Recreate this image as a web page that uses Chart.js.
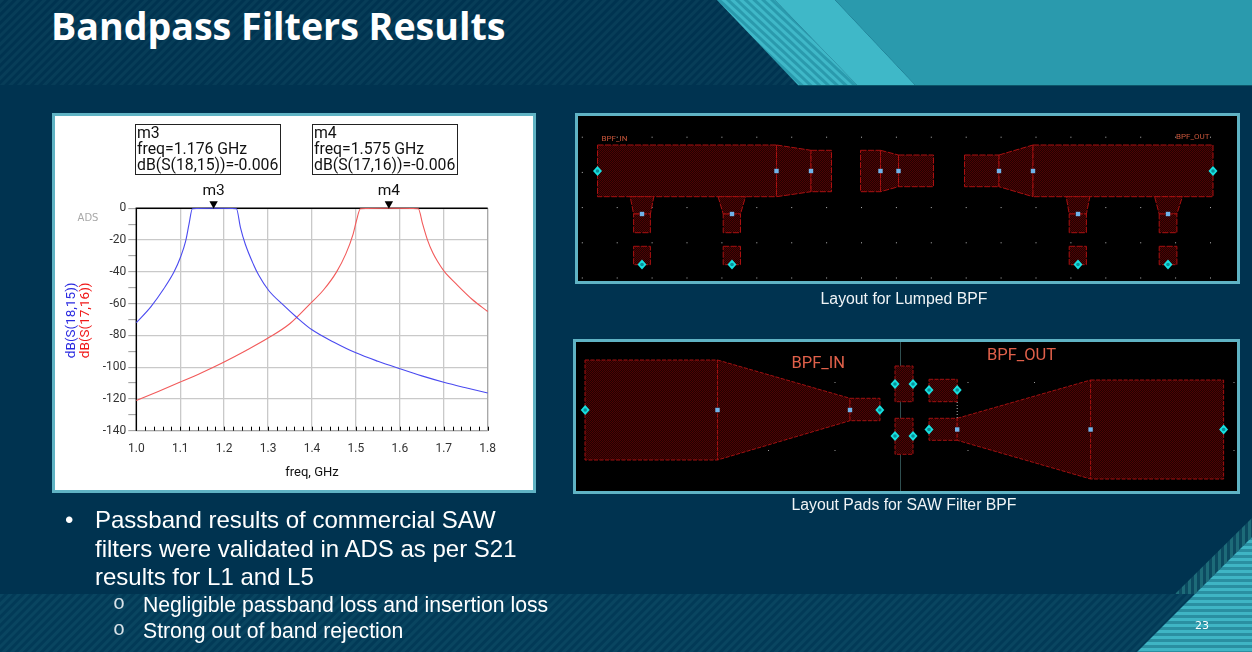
<!DOCTYPE html>
<html>
<head>
<meta charset="utf-8">
<title>Bandpass Filters Results</title>
<script src="https://cdn.jsdelivr.net/npm/chart.js@4"></script>
<style>
html, body { margin: 0; padding: 0; background: #003350; }
#slide { position: relative; width: 1252px; height: 652px; overflow: hidden; background: #003350; font-family: "Liberation Sans", Arial, sans-serif; color: #fff; }
#deco, #layouts { position: absolute; left: 0; top: 0; }
h1 { position: absolute; left: 51px; top: -1px; margin: 0; font: 700 37.6px/54px "Open Sans", sans-serif; white-space: nowrap; }
#panel { position: absolute; left: 52px; top: 113px; width: 478px; height: 374px; border: 3px solid #5fb3c4; background: #fff; }
#panel canvas { position: absolute; left: 0; top: 0; }
.mbox { position: absolute; top: 8px; width: 143px; height: 49px; border: 1px solid #222; box-sizing: content-box; color: #111; font: 15.8px/16.2px Roboto, sans-serif; padding-left: 1px; white-space: nowrap; overflow: hidden; }
.line { position: absolute; white-space: nowrap; }
.ring { font-family: "Liberation Mono", monospace; color: #d8e2e8; }
.cap { position: absolute; white-space: nowrap; font-size: 15.8px; transform: translateX(-50%); color: #f0f4f6; }
</style>
</head>
<body>
<div id="slide">
  <svg id="deco" width="1252" height="652">
    <defs>
      <pattern id="diag" width="6" height="6" patternUnits="userSpaceOnUse" patternTransform="rotate(-45)">
        <rect width="6" height="3" fill="#073d58"/>
      </pattern>
      <pattern id="diagLow" width="6" height="6" patternUnits="userSpaceOnUse" patternTransform="rotate(-45)">
        <rect width="6" height="6" fill="#023a57"/>
        <rect width="6" height="3" fill="#094560"/>
      </pattern>
      <pattern id="stripeDiag" width="6" height="6" patternUnits="userSpaceOnUse" patternTransform="rotate(-47)">
        <rect width="6" height="6" fill="#2a9aad"/>
        <rect width="3" height="6" fill="#3fb8c8"/>
      </pattern>
      <pattern id="vert" width="6" height="6" patternUnits="userSpaceOnUse">
        <rect width="6" height="6" fill="#0c4a60"/>
        <rect width="3" height="6" fill="#1d6b78"/>
      </pattern>
      <pattern id="horiz" width="6" height="6" patternUnits="userSpaceOnUse">
        <rect width="6" height="6" fill="#2a8fa1"/>
        <rect width="6" height="3" fill="#3fb5c4"/>
      </pattern>
    </defs>
    <rect x="0" y="0" width="1252" height="85" fill="url(#diag)"/>
    <polygon points="717,0 775,0 857,85 798,85" fill="url(#stripeDiag)"/>
    <polygon points="775,0 835,0 915,85 857,85" fill="#3fb8c8"/>
    <polygon points="835,0 1252,0 1252,85 915,85" fill="#2a9aad"/>
    <rect x="798" y="85" width="454" height="1" fill="#0c5568"/>
    <rect x="0" y="594" width="1252" height="58" fill="url(#diagLow)"/>
    <polygon points="1175,594 1252,518 1252,537 1195,594" fill="url(#vert)"/>
    <polygon points="1137,652 1252,537 1252,652" fill="url(#horiz)"/>
  </svg>

  <h1>Bandpass Filters Results</h1>

  <div id="panel">
    <canvas id="chartCanvas" width="478" height="374"></canvas>
    <div class="mbox" style="left:80px">m3<br>freq=1.176 GHz<br>dB(S(18,15))=-0.006</div>
    <div class="mbox" style="left:257px">m4<br>freq=1.575 GHz<br>dB(S(17,16))=-0.006</div>
  </div>

  <svg id="layouts" width="1252" height="652">
    <defs>
      <pattern id="hatch" width="2" height="2" patternUnits="userSpaceOnUse">
        <rect width="2" height="2" fill="#220101"/>
        <rect width="1" height="1" fill="#4c0404"/>
        <rect x="1" y="1" width="1" height="1" fill="#4c0404"/>
      </pattern>
      <pattern id="dots1" x="581.8" y="136.7" width="34.9" height="35.2" patternUnits="userSpaceOnUse">
        <rect width="1" height="1" fill="#b8b8b8"/>
      </pattern>
      <pattern id="dots2" x="635" y="382" width="66.5" height="68" patternUnits="userSpaceOnUse">
        <rect width="1" height="1" fill="#9a9a9a"/>
      </pattern>
      <g id="pin"><path d="M0,-5 L4.5,0 L0,5 L-4.5,0 Z" fill="#16e0e0"/><circle r="1.8" fill="#0a8f98"/></g>
      <rect id="port" x="-2.2" y="-2.2" width="4.4" height="4.4" fill="#6fb4ea"/>
    </defs>

    <!-- Lumped BPF layout -->
    <rect x="576.5" y="114.5" width="662" height="168" fill="#000" stroke="#5fb3c4" stroke-width="3"/>
    <rect x="578" y="116" width="659" height="165" fill="url(#dots1)"/>
    <g fill="url(#hatch)" stroke="#a81010" stroke-width="1" stroke-dasharray="6 1.5">
      <rect x="597.5" y="145" width="179" height="51.7"/>
      <polygon points="776.5,145 811,150.3 811,191.7 776.5,196.7"/>
      <rect x="811" y="150.3" width="20.5" height="41.4"/>
      <rect x="860.5" y="150.3" width="20" height="41.4"/>
      <polygon points="880.5,150.3 898.5,155 898.5,186.7 880.5,191.7"/>
      <rect x="898.5" y="155" width="35" height="31.7"/>
      <rect x="964.5" y="155" width="34.5" height="31.7"/>
      <polygon points="999,155 1033,145 1033,196.7 999,186.7"/>
      <rect x="1033" y="145" width="180" height="51.7"/>
      <polygon points="630.2,196.7 653.8,196.7 650.4,214 633.6,214"/>
      <rect x="633.6" y="214" width="16.8" height="18.7"/>
      <rect x="633.6" y="246.3" width="16.8" height="18.4"/>
      <polygon points="718.1,196.7 745.5,196.7 740.5,214 723.2,214"/>
      <rect x="723.2" y="214" width="17.3" height="18.7"/>
      <rect x="723.2" y="246.3" width="17.3" height="18.4"/>
      <polygon points="1066.2,196.7 1089.8,196.7 1086.4,214 1069.2,214"/>
      <rect x="1069.2" y="214" width="17.2" height="18.7"/>
      <rect x="1069.2" y="246.3" width="17.2" height="18.4"/>
      <polygon points="1154.6,196.7 1182.4,196.7 1176.9,214 1159.2,214"/>
      <rect x="1159.2" y="214" width="17.7" height="18.7"/>
      <rect x="1159.2" y="246.3" width="17.7" height="18.4"/>
    </g>
    <g>
      <use href="#port" x="776.5" y="171"/><use href="#port" x="811" y="171"/>
      <use href="#port" x="880.5" y="171"/><use href="#port" x="898.5" y="171"/>
      <use href="#port" x="999" y="171"/><use href="#port" x="1033" y="171"/>
      <use href="#port" x="642" y="214"/><use href="#port" x="732" y="214"/>
      <use href="#port" x="1078" y="214"/><use href="#port" x="1168" y="214"/>
      <use href="#pin" x="597.5" y="171"/><use href="#pin" x="1213" y="171"/>
      <use href="#pin" x="642" y="264.5"/><use href="#pin" x="732" y="264.5"/>
      <use href="#pin" x="1078" y="264.5"/><use href="#pin" x="1168" y="264.5"/>
    </g>
    <text x="601.5" y="141" font-family="Roboto" font-size="8" fill="#c8553a">BPF_IN</text>
    <text x="1176" y="139" font-family="Roboto" font-size="8" fill="#c8553a">BPF_OUT</text>

    <!-- SAW filter pads layout -->
    <rect x="574.5" y="340.5" width="664" height="152" fill="#000" stroke="#5fb3c4" stroke-width="3"/>
    <rect x="576" y="342" width="661" height="149" fill="url(#dots2)"/>
    <line x1="900.5" y1="342" x2="900.5" y2="491" stroke="#2f4f50" stroke-width="1"/>
    <g fill="url(#hatch)" stroke="#a01010" stroke-width="1" stroke-dasharray="4 1.5">
      <rect x="585" y="360" width="132.5" height="100"/>
      <polygon points="717.5,360 850,398.3 850,420.7 717.5,460"/>
      <rect x="850" y="398.3" width="30" height="22.4"/>
      <rect x="895" y="366" width="18" height="35.7"/>
      <rect x="895" y="418.3" width="18" height="36"/>
      <rect x="929" y="379.3" width="28.2" height="22.4"/>
      <rect x="929" y="418.3" width="28.2" height="22"/>
      <polygon points="957.2,418.3 1090.6,380 1090.6,479 957.2,440.3"/>
      <rect x="1090.6" y="380" width="133" height="99"/>
    </g>
    <line x1="957.2" y1="402" x2="957.2" y2="418" stroke="#bbb" stroke-width="1" stroke-dasharray="1 2"/>
    <g>
      <use href="#port" x="717.5" y="410"/><use href="#port" x="850" y="410"/>
      <use href="#port" x="957.2" y="429.5"/><use href="#port" x="1090.6" y="429.5"/>
      <use href="#pin" x="585.2" y="410"/><use href="#pin" x="879.8" y="410"/>
      <use href="#pin" x="895" y="384"/><use href="#pin" x="913" y="384"/>
      <use href="#pin" x="929" y="390"/><use href="#pin" x="957.2" y="390"/>
      <use href="#pin" x="895" y="436"/><use href="#pin" x="913" y="436"/>
      <use href="#pin" x="929" y="429.5"/><use href="#pin" x="1223.6" y="429.5"/>
    </g>
    <text x="791.5" y="368" font-family="Roboto" font-size="16.5" fill="#e0604a">BPF_IN</text>
    <text x="987" y="360" font-family="Roboto" font-size="16.5" fill="#e0604a">BPF_OUT</text>
  </svg>

  <div class="cap" style="left:904px;top:290px">Layout for Lumped BPF</div>
  <div class="cap" style="left:904px;top:496px">Layout Pads for SAW Filter BPF</div>

  <div class="line" style="left:65px;top:506px;font-size:24px">•</div>
  <div class="line" style="left:95px;top:506px;font-size:24px">Passband results of commercial SAW</div>
  <div class="line" style="left:95px;top:535px;font-size:24px">filters were validated in ADS as per S21</div>
  <div class="line" style="left:95px;top:563px;font-size:24px">results for L1 and L5</div>
  <div class="line ring" style="left:113px;top:592px;font-size:20px">o</div>
  <div class="line" style="left:143px;top:593px;font-size:21.2px">Negligible passband loss and insertion loss</div>
  <div class="line ring" style="left:113px;top:618px;font-size:20px">o</div>
  <div class="line" style="left:143px;top:619px;font-size:21.2px">Strong out of band rejection</div>
  <div class="line" style="left:1195px;top:619px;font-size:11px;font-family:'DejaVu Sans'">23</div>
</div>

<script>
// values
const blueFreq = [1.0, 1.033, 1.063, 1.086, 1.101, 1.1125, 1.12, 1.1277, 1.176, 1.228, 1.237, 1.248, 1.267, 1.2785, 1.301, 1.335, 1.365, 1.40, 1.45, 1.50, 1.55, 1.60, 1.65, 1.70, 1.75, 1.80];
const blueDb = [-72, -62, -50.5, -40, -30.5, -20.5, -10, -0.3, -0.006, -0.3, -12, -22.5, -35.5, -42, -51.6, -61, -68.6, -76.5, -84.3, -91, -96.3, -101, -105.5, -109.5, -113, -116.3];

const redFreq = [1.0, 1.05, 1.10, 1.15, 1.20, 1.25, 1.30, 1.35, 1.395, 1.4256, 1.456, 1.477, 1.4936, 1.501, 1.5103, 1.575, 1.642, 1.652, 1.663, 1.675, 1.686, 1.701, 1.7276, 1.765, 1.80];
const redDb = [-121, -115.3, -109.4, -103.3, -96.7, -89.5, -81.7, -72.5, -60.3, -51.6, -40, -28.7, -16.2, -8, -0.3, -0.006, -0.3, -10, -20, -28, -33.5, -39.7, -47.4, -57.4, -65];

const markerNames = ['m3', 'm4'];
const markerFreq = [1.176, 1.575];
const yTitles = ['dB(S(18,15))', 'dB(S(17,16))'];
const yTitleColors = ['#2a2ae0', '#f01818'];

const xy = (xs, ys) => xs.map((x, i) => ({ x: x, y: ys[i] }));

// frame goes under the traces, so the passband shows over the top axis
const plotFrame = {
    id: 'plotFrame',
    beforeDatasetsDraw(chart) {
        const { ctx, chartArea: a } = chart;
        ctx.save();
        ctx.lineWidth = 1;
        ctx.strokeStyle = '#a0a0a0';
        ctx.beginPath();
        ctx.moveTo(a.right, a.top);
        ctx.lineTo(a.right, a.bottom);
        ctx.lineTo(a.left, a.bottom);
        ctx.stroke();

        ctx.strokeStyle = '#000';
        ctx.lineWidth = 1.4;
        ctx.beginPath();
        ctx.moveTo(a.right, a.top);
        ctx.lineTo(a.left, a.top);
        ctx.lineTo(a.left, a.bottom);
        ctx.stroke();
        ctx.restore();
    },
};

// inward ticks, marker triangles and the stacked y titles
const plotExtras = {
    id: 'plotExtras',
    afterDatasetsDraw(chart) {
        const { ctx, chartArea: a, scales } = chart;
        ctx.save();
        ctx.lineWidth = 1;

        ctx.strokeStyle = '#000';
        scales.x.ticks.forEach((t) => {
            const px = Math.round(scales.x.getPixelForValue(t.value)) + 0.5;
            ctx.beginPath();
            ctx.moveTo(px, a.bottom);
            ctx.lineTo(px, a.bottom - 4);
            ctx.stroke();
        });

        ctx.font = '15.5px Roboto';
        ctx.textAlign = 'center';
        ctx.textBaseline = 'middle';
        markerFreq.forEach((f, i) => {
            const px = scales.x.getPixelForValue(f);
            ctx.fillStyle = '#000';
            ctx.beginPath();
            ctx.moveTo(px, a.top + 0.5);
            ctx.lineTo(px - 4.2, a.top - 7);
            ctx.lineTo(px + 4.2, a.top - 7);
            ctx.closePath();
            ctx.fill();
            ctx.fillStyle = '#111';
            ctx.fillText(markerNames[i], px, a.top - 17);
        });

        ctx.font = '13.5px Roboto';
        [17, 31].forEach((tx, i) => {
            ctx.save();
            ctx.translate(tx, a.top + 112);
            ctx.rotate(-Math.PI / 2);
            ctx.fillStyle = yTitleColors[i];
            ctx.fillText(yTitles[i], 0, 0);
            ctx.restore();
        });

        ctx.font = '10px "DejaVu Sans"';
        ctx.fillStyle = '#a8a8a8';
        ctx.fillText('ADS', 33, a.top + 10);
        ctx.restore();
    },
};

new Chart(document.getElementById('chartCanvas').getContext('2d'), {
    type: 'scatter',
    data: {
        datasets: [
            { data: xy(blueFreq, blueDb), borderColor: '#4a4af0', borderWidth: 1.1, showLine: true, pointRadius: 0, cubicInterpolationMode: 'monotone', clip: false },
            { data: xy(redFreq, redDb), borderColor: '#f25a5a', borderWidth: 1.1, showLine: true, pointRadius: 0, cubicInterpolationMode: 'monotone', clip: false },
        ],
    },
    options: {
        responsive: false,
        animation: false,
        layout: { padding: { left: 0, top: 92.3, right: 45.3, bottom: 0 } },
        plugins: { legend: { display: false }, tooltip: { enabled: false } },
        scales: {
            x: {
                type: 'linear',
                min: 1.0,
                max: 1.8,
                afterFit(scale) { scale.height = 59.3; },
                border: { display: false },
                grid: {
                    drawTicks: false,
                    lineWidth: 1.3,
                    color: (c) => (Math.round(c.tick.value * 100) % 10 === 0 ? '#c9c9c9' : 'transparent'),
                },
                ticks: {
                    stepSize: 0.02,
                    maxTicksLimit: 60,
                    autoSkip: false,
                    maxRotation: 0,
                    padding: 11,
                    color: '#333',
                    font: { family: 'Roboto', size: 12 },
                    callback: (v) => (Math.round(v * 100) % 10 === 0 ? Number(v).toFixed(1) : ''),
                },
                title: {
                    display: true,
                    text: 'freq, GHz',
                    color: '#111',
                    font: { family: 'Roboto', size: 13 },
                    padding: { top: 0, bottom: 9 },
                },
            },
            y: {
                min: -140,
                max: 0,
                afterFit(scale) { scale.width = 81.3; },
                border: { display: false },
                grid: {
                    lineWidth: 1.3,
                    tickLength: 8,
                    tickWidth: 1,
                    tickColor: '#9a9a9a',
                    color: (c) => (c.tick.value % 20 === 0 ? '#c9c9c9' : 'transparent'),
                },
                ticks: {
                    stepSize: 10,
                    autoSkip: false,
                    padding: 2,
                    color: '#333',
                    font: { family: 'Roboto', size: 12 },
                    callback: (v) => (v % 20 === 0 ? String(v) : ''),
                },
            },
        },
    },
    plugins: [plotFrame, plotExtras],
});
</script>
</body>
</html>
